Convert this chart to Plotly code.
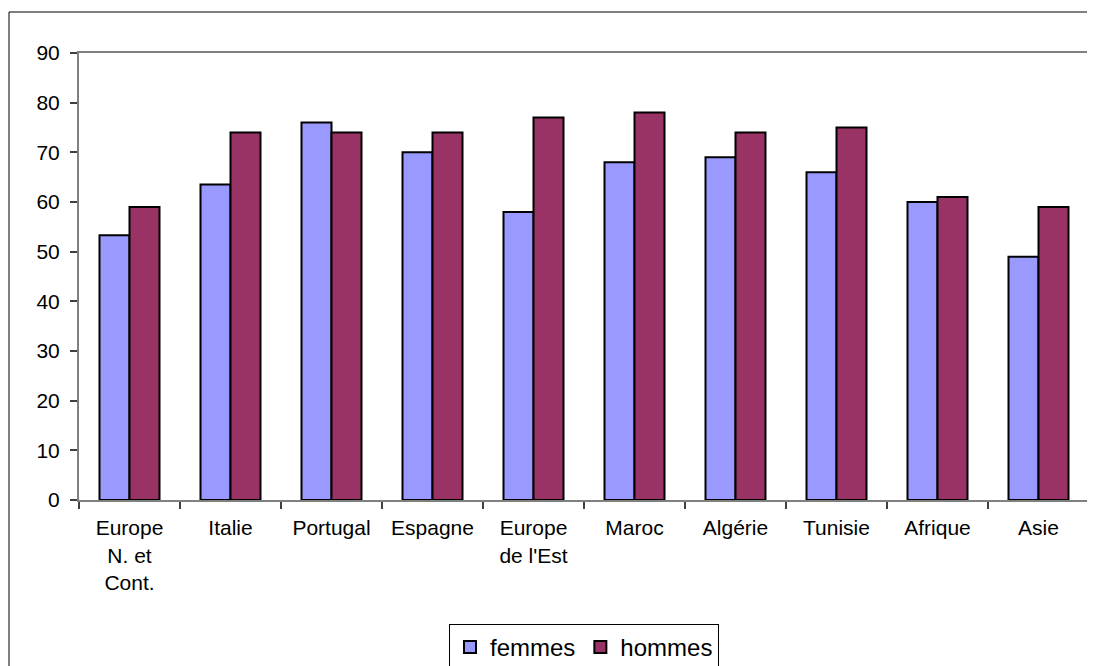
import plotly.graph_objects as go

categories = ["Europe<br>N. et<br>Cont.", "Italie", "Portugal", "Espagne", "Europe<br>de l'Est",
              "Maroc", "Algérie", "Tunisie", "Afrique", "Asie"]
femmes = [53.3, 63.5, 76, 70, 58, 68, 69, 66, 60, 49]
hommes = [59, 74, 74, 74, 77, 78, 74, 75, 61, 59]

FONT = "Arial, Liberation Sans, sans-serif"

fig = go.Figure()
fig.add_trace(go.Bar(x=categories, y=femmes, name="femmes",
                     marker=dict(color="#9999FF", line=dict(color="black", width=2))))
fig.add_trace(go.Bar(x=categories, y=hommes, name="hommes",
                     marker=dict(color="#993366", line=dict(color="black", width=2))))

# page body has an 8px margin, so the figure is drawn at (8, 8)
fig.update_layout(
    width=1087, height=658,
    margin=dict(l=71, r=6, t=45, b=166, autoexpand=False),
    paper_bgcolor="white", plot_bgcolor="white",
    barmode="group", bargap=0.406, bargroupgap=0,
    font=dict(family=FONT, color="black", size=21),
    showlegend=True,
    legend=dict(orientation="h", x=0.5, xanchor="center", y=-0.277, yanchor="top",
                bordercolor="black", borderwidth=1, font=dict(size=24),
                itemsizing="constant", tracegroupgap=0, itemwidth=30),
    shapes=[dict(type="rect", xref="paper", yref="paper",
                 x0=-0.0693, x1=1.03, y0=-0.5, y1=1.0917,
                 line=dict(color="black", width=1), layer="below")],
)
fig.update_xaxes(showline=True, linecolor="#808080", linewidth=2, mirror=True,
                 ticks="outside", tickson="boundaries", ticklen=7, tickcolor="#404040",
                 tickwidth=1.5, showgrid=False, tickfont=dict(size=21), ticklabelstandoff=8)
fig.update_yaxes(range=[0, 90], dtick=10, showline=True, linecolor="#808080", linewidth=2,
                 mirror=True, ticks="outside", ticklen=7, tickcolor="#404040", tickwidth=1.5,
                 showgrid=False, zeroline=False, tickfont=dict(size=21), ticklabelstandoff=6)

fig.write_html("out.html")
